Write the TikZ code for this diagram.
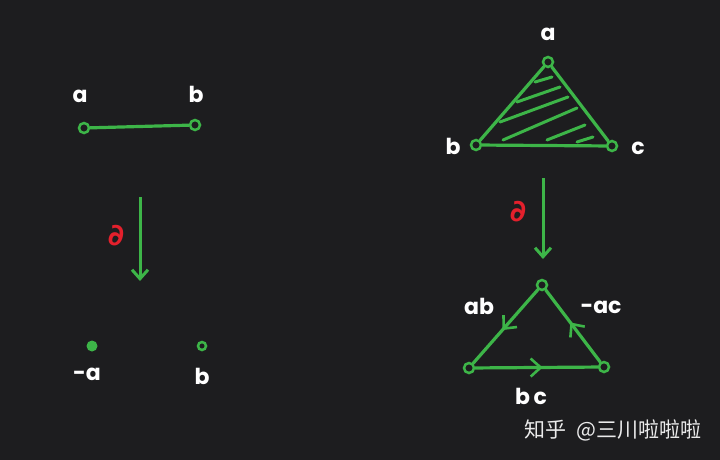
\documentclass[tikz,border=0pt]{standalone}
\usepackage{fontspec}
\setmainfont{Poppins}
\newfontfamily\cjk{Noto Sans CJK SC}
\newfontfamily\djv{DejaVu Sans}
\usetikzlibrary{decorations.markings,arrows.meta}
\definecolor{bg}{HTML}{1D1D1F}
\definecolor{grn}{HTML}{3DB548}
\definecolor{rd}{HTML}{E3202C}
\begin{document}
\begin{tikzpicture}[x=1pt,y=-1pt,
  vtx/.style={circle,draw=grn,line width=2.5pt,inner sep=0pt,minimum size=10pt},
  dotv/.style={circle,fill=grn,inner sep=0pt,minimum size=11pt},
  edge/.style={grn,line width=3.2pt,line cap=round},
  hatch/.style={grn,line width=3pt,line cap=round},
  lbl/.style={text=white,font=\bfseries\fontsize{22}{22}\selectfont},
  dlbl/.style={text=rd,font=\djv\bfseries\fontsize{30}{30}\selectfont},
  bnd/.style={grn,line width=3pt,-{Straight Barb[length=9pt,width=16pt,line width=3pt]}},
  midarrow/.style={postaction=decorate,decoration={markings,
     mark=at position 0.55 with {\arrow{Straight Barb[length=10pt,width=18pt,line width=2.6pt]}}}}
]
\fill[bg] (0,0) rectangle (720,460);
\useasboundingbox (0,0) rectangle (720,460);

% left: segment
\node[vtx] (la) at (84,128) {};
\node[vtx] (lb) at (195,125) {};
\draw[edge] (la) -- (lb);
\node[lbl] (lat) at (80,96) {a};
\node[lbl] (lbt) at (196,94) {b};

\coordinate (l1) at (140,197);
\coordinate (l2) at (140,281);
\draw[bnd] (l1) -- (l2);
\node[dlbl] (ld) at (116,236) {∂};

\node[dotv] (pa) at (92,346) {};
\node[vtx,minimum size=8pt] (pb) at (202,346) {};
\node[lbl] (pat) at (87,374) {-a};
\node[lbl] (pbt) at (202,376) {b};

% right: filled triangle
\node[vtx] (ta) at (548,62) {};
\node[vtx] (tb) at (476,145) {};
\node[vtx] (tc) at (612,146) {};
\draw[edge] (ta) -- (tb);
\draw[edge] (tb) -- (tc);
\draw[edge] (tc) -- (ta);
\node[lbl] (tat) at (548,34) {a};
\node[lbl] (tbt) at (453,146) {b};
\node[lbl] (tct) at (638,148) {c};
\draw[hatch] (535,82) -- (552,77);
\draw[hatch] (517,102) -- (560,87);
\draw[hatch] (500,122) -- (568,97);
\draw[hatch] (503,140) -- (577,108);
\draw[hatch] (547,140) -- (585,125);
\draw[hatch] (577,142) -- (593,137);

\coordinate (r1) at (543,178);
\coordinate (r2) at (543,259);
\draw[bnd] (r1) -- (r2);
\node[dlbl] (rd) at (518,212) {∂};

% right: boundary triangle
\node[vtx] (ba) at (542,285) {};
\node[vtx] (bb) at (469,368) {};
\node[vtx] (bc) at (604,367) {};
\draw[edge,midarrow] (ba) -- (bb);
\draw[edge,midarrow] (bb) -- (bc);
\draw[edge,midarrow] (bc) -- (ba);
\node[lbl] (abt) at (479,306) {ab};
\node[lbl] (act) at (601,307) {-ac};
\node[lbl] (bct) at (531,396) {b\,c};

\node[text=white!92!black,font=\cjk\fontsize{21}{21}\selectfont] (wm) at (613,430) {知乎\ \ @三川啦啦啦};
\end{tikzpicture}
\end{document}
